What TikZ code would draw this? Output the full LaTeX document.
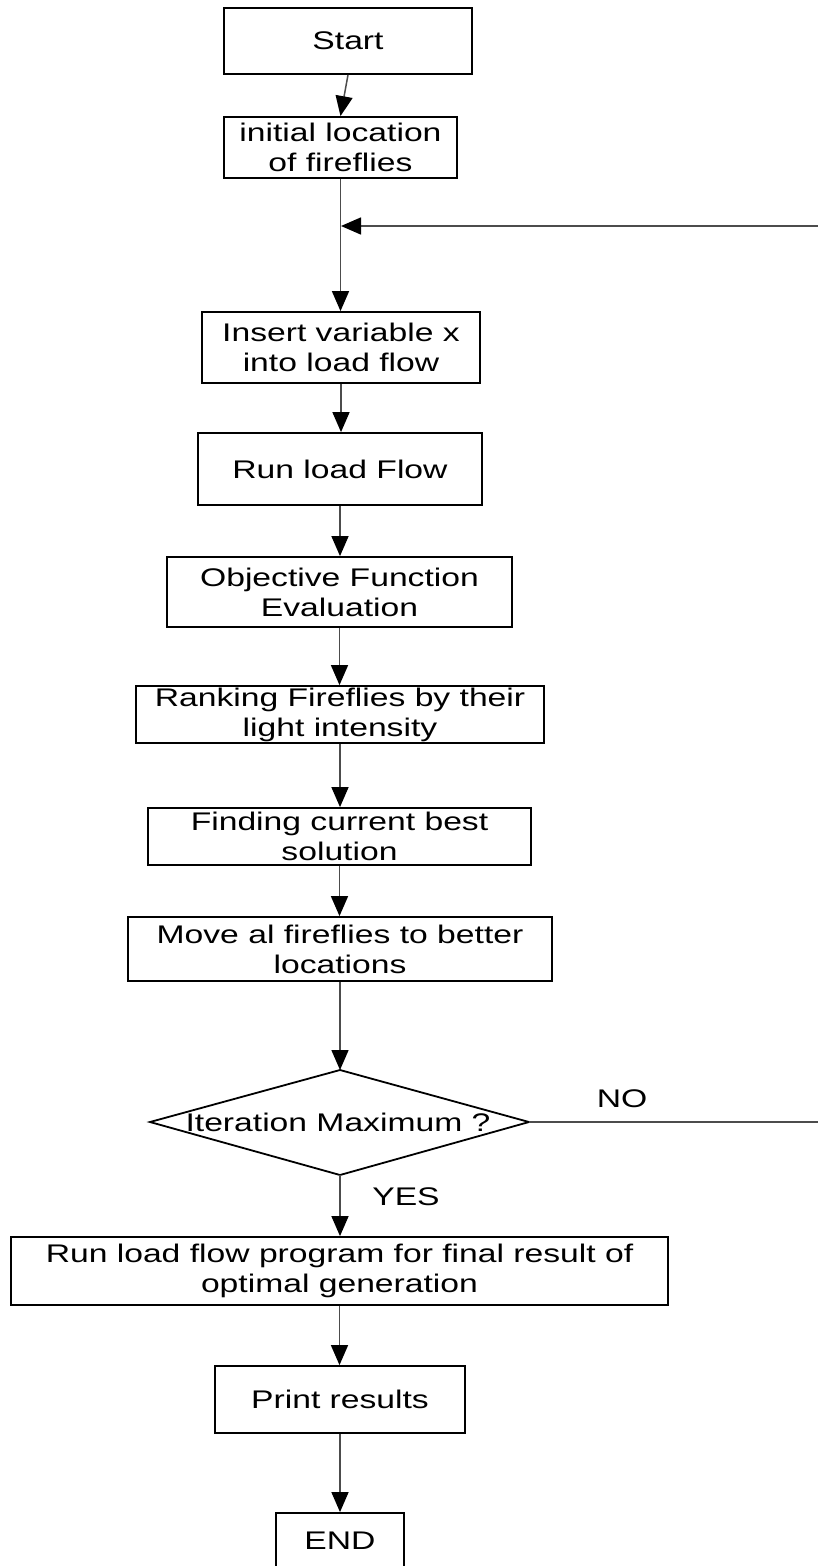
\documentclass[tikz,border=0pt]{standalone}
\usepackage{fontspec}
\setmainfont{Liberation Sans}[FakeStretch=1.32]
\usetikzlibrary{arrows.meta}
\begin{document}
\begin{tikzpicture}[x=1pt,y=-1pt,
  box/.style={draw=black,line width=1.8pt,inner sep=0pt,align=center,
    font=\fontsize{25.5}{30}\selectfont},
  lbl/.style={inner sep=0pt,font=\fontsize{25.5}{30}\selectfont},
  conn/.style={draw=black!70,line width=1.5pt},
  arr/.style={conn,-{Triangle[length=20pt,width=17pt,fill=black,color=black]}}
]
\useasboundingbox (0,0) rectangle (817,1566);
\fill[white] (0,0) rectangle (817,1566);

\node[box,minimum width=248,minimum height=66] (start) at (348,41) {Start};
\node[box,minimum width=233,minimum height=61] (init) at (340.5,147.5) {initial location\\of fireflies};
\node[box,minimum width=278,minimum height=71] (insert) at (341,347.5) {Insert variable x\\into load flow};
\node[box,minimum width=284,minimum height=72] (run) at (340,469) {Run load Flow};
\node[box,minimum width=345,minimum height=70] (obj) at (339.5,592) {Objective Function\\Evaluation};
\node[box,minimum width=408,minimum height=57] (rank) at (340,714.5) {Ranking Fireflies by their\\light intensity};
\node[box,minimum width=383,minimum height=57] (find) at (339.5,836.5) {Finding current best\\solution};
\node[box,minimum width=424,minimum height=64] (move) at (340,949) {Move al fireflies to better\\locations};

% decision diamond
\coordinate (dT) at (340,1070);
\coordinate (dB) at (340,1175);
\coordinate (dL) at (150,1122);
\coordinate (dR) at (529,1122);
\draw[line width=1.8pt,line join=miter] (dT) -- (dR) -- (dB) -- (dL) -- cycle;
\node[lbl] (dtext) at (338,1122) {Iteration Maximum ?};

\node[box,minimum width=657,minimum height=68] (final) at (339.5,1271) {Run load flow program for final result of\\optimal generation};
\node[box,minimum width=250,minimum height=67] (print) at (340,1399.5) {Print results};
\node[box,minimum width=128,minimum height=56] (end) at (340,1541) {END};

\node[lbl] (no) at (622,1099) {NO};
\node[lbl] (yes) at (406,1197) {YES};

\coordinate (loopR) at (819,1122);
\coordinate (loopT) at (819,226);
\coordinate (join) at (341,226);

% connectors
\draw[arr] (start.south) -- (init.north);
\draw[arr] (init.south) -- (init.south |- insert.north);
\draw[arr] (loopT) -- (join);
\draw[conn] (dR) -- (loopR) -- (loopT);
\draw[arr] (insert.south) -- (insert.south |- run.north);
\draw[arr] (run.south) -- (run.south |- obj.north);
\draw[arr] (obj.south) -- (obj.south |- rank.north);
\draw[arr] (rank.south) -- (rank.south |- find.north);
\draw[arr] (find.south) -- (find.south |- move.north);
\draw[arr] (move.south) -- (dT);
\draw[arr] (dB) -- (dB |- final.north);
\draw[arr] (final.south) -- (final.south |- print.north);
\draw[arr] (print.south) -- (print.south |- end.north);
\end{tikzpicture}
\end{document}
